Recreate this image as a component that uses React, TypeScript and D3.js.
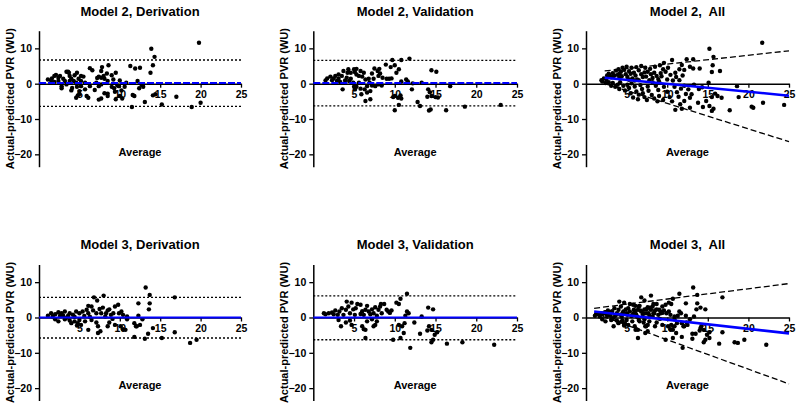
import React, { useEffect, useRef } from "react";
import * as d3 from "d3";

// tick values
const xTicks = [5, 10, 15, 20, 25];
const yTicks = [10, 0, -10, -20];

// [average, actual - predicted]
const m2Deriv: [number, number][] = [
  [19.8, 11.6], [13.9, 9.9], [14.3, 7.6], [14.1, 5.2], [13.8, 3.1], [11.3, 5.0], [11.9, 4.3], [12.5, 4.5],
  [12.2, 0.75], [12.7, -0.4], [12.9, -0.85], [12.4, -1.3], [11.6, -3.2], [11.8, -3.5], [13.1, -5.2], [14.1, -3.3],
  [14.4, -3.0], [15.2, -5.9], [17.0, -3.7], [11.5, -6.6], [18.9, -6.6], [20.0, -5.4], [8.6, 5.2], [7.8, 4.7],
  [6.3, 4.4], [6.6, 3.8], [7.7, 3.6], [9.5, 3.1], [8.4, 2.9], [8.0, 2.2], [9.0, 2.4], [9.2, 1.2], [10.0, 0.9],
  [7.2, 1.6], [7.4, 2.0], [7.7, 1.7], [8.1, 1.4], [8.5, 0.75], [9.7, -0.5], [9.0, -0.9], [9.3, -1.3], [9.9, -0.7],
  [10.6, -0.85], [10.8, 0.3], [10.2, -1.9], [9.4, -2.3], [10.0, -3.5], [10.3, -4.2], [9.5, -4.4], [8.5, -2.8],
  [8.1, -2.7], [8.5, -3.5], [7.7, -4.2], [7.4, -4.5], [6.9, -1.8], [6.1, -4.0], [5.9, -3.5], [5.7, -1.6],
  [5.0, -2.1], [4.8, -3.3], [4.6, -4.0], [6.3, -0.7], [5.2, -0.7], [4.7, -0.85], [4.1, -1.2], [4.0, -1.9],
  [2.8, -0.7], [2.8, -1.3], [3.4, -0.2], [1.1, 1.2], [1.6, 1.5], [1.9, 2.2], [2.1, 2.5], [2.4, 1.7], [2.6, 2.2],
  [3.0, 1.4], [3.4, 3.4], [3.7, 3.1], [3.8, 2.2], [4.0, 1.4], [4.4, 2.4], [4.7, 3.1], [4.9, 1.4], [5.2, 2.2],
  [5.2, 0.75], [5.5, 2.0], [5.7, 0.3], [2.4, 0.75], [1.9, 0.5], [1.5, 0.9], [4.3, 0.75], [4.6, 0.3], [3.8, 0.75],
  [3.2, 0.75], [7.1, 0.3], [7.7, -0.2], [7.4, -0.7], [5.0, -2.9], [3.6, 3.4],
];

const m2Valid: [number, number][] = [
  [11.8, 7.1], [10.8, 6.7], [9.7, 6.7], [10.0, 5.2], [9.5, 4.7], [8.9, 5.4], [10.5, 4.1], [10.2, 3.1], [14.5, 3.8],
  [15.1, 3.4], [11.4, 1.2], [11.6, 0.6], [10.8, 0.6], [12.2, 0.1], [13.3, 0.3], [16.8, -0.7], [12.1, -1.6],
  [14.1, -1.6], [14.3, -2.4], [14.0, -3.7], [14.5, -3.5], [15.3, -3.9], [15.0, -3.8], [12.8, -5.2], [13.1, -6.3],
  [14.2, -7.6], [14.4, -7.3], [16.3, -7.5], [18.6, -6.5], [23.0, -6.0], [10.0, -3.5], [10.4, -4.0], [10.7, -3.3],
  [10.8, -4.2], [10.5, -6.0], [10.0, -7.5], [9.8, -3.8], [6.4, -4.9], [7.0, -4.4], [5.9, -3.0], [6.6, -2.5],
  [7.0, -2.1], [6.3, -1.6], [5.8, -1.4], [5.3, -0.85], [5.0, -0.85], [5.1, -1.6], [3.6, -1.6], [5.6, 0.3],
  [6.6, -0.7], [7.2, -0.5], [7.6, -0.7], [8.0, -0.2], [8.4, -0.5], [6.9, 0.3], [7.4, 1.4], [8.0, 2.2], [8.2, 2.9],
  [7.9, 3.6], [7.5, 4.3], [8.1, 4.2], [8.5, 1.7], [9.0, 1.4], [9.3, 1.4], [9.6, 1.5], [7.2, 2.9], [6.8, 1.4],
  [6.4, 1.2], [6.0, 2.0], [5.6, 2.2], [5.3, 2.6], [5.0, 4.1], [5.3, 4.2], [5.1, 3.3], [5.8, 3.6], [6.2, 3.1],
  [4.3, 4.1], [4.6, 3.1], [4.2, 3.1], [3.7, 3.6], [4.6, 1.4], [4.1, 1.7], [3.9, 0.9], [3.5, 2.2], [3.1, 2.6],
  [3.1, 1.4], [2.7, 2.2], [2.5, 1.5], [2.3, 1.0], [2.1, 2.0], [1.7, 1.5], [1.5, 0.9], [2.9, 0.75], [3.3, 0.5],
  [4.4, 0.75], [4.9, 0.3],
];

const m2All: [number, number][] = [
  [21.7, 11.6], [15.2, 9.9], [15.7, 7.6], [15.6, 5.2], [15.5, 3.3], [16.5, 3.6], [14.0, 4.3], [13.2, 6.9],
  [12.4, 6.9], [10.6, 6.7], [11.8, 5.3], [12.1, 3.9], [12.8, 4.8], [13.2, 4.3], [11.5, 4.1], [11.0, 3.1],
  [15.1, 0.3], [18.6, -0.7], [15.9, -2.8], [16.2, -3.5], [16.7, -4.0], [18.8, -3.8], [15.5, -3.8], [14.8, -4.9],
  [15.2, -6.3], [15.5, -7.7], [15.7, -7.1], [14.4, -6.6], [13.8, -5.4], [17.7, -7.5], [20.4, -6.5], [20.6, -6.8],
  [21.8, -5.4], [24.4, -6.0], [13.0, -3.0], [12.6, -1.6], [12.8, -4.0], [12.1, -4.9], [11.6, -5.8], [12.8, -6.8],
  [11.0, -7.4], [11.8, -7.1], [4.0, 4.1], [4.5, 4.5], [5.0, 4.8], [5.6, 4.5], [6.2, 4.7], [6.8, 5.0], [7.3, 4.5],
  [7.9, 4.2], [8.5, 4.8], [9.1, 5.2], [9.6, 5.9], [10.1, 4.5], [9.5, 4.1],
  [2.2, 1.5], [2.6, 2.3], [2.8, 2.8], [3.1, 1.8], [3.3, 3.0], [3.5, 2.3], [3.7, 3.7], [3.9, 2.5], [4.1, 1.6],
  [4.3, 3.4], [4.4, 2.1], [4.7, 3.9], [4.9, 2.7], [5.1, 1.9], [5.3, 3.5], [5.5, 2.8], [5.7, 1.5], [5.9, 3.1],
  [6.1, 2.3], [6.3, 1.2], [6.5, 3.8], [6.8, 2.7], [7.0, 1.9], [7.2, 3.2], [7.4, 2.0], [7.6, 3.4], [7.8, 1.0],
  [8.0, 2.7], [8.2, 1.6], [8.4, 3.1], [8.7, 2.2], [8.9, 1.3], [9.2, 3.0], [9.3, 2.1], [9.8, 3.4], [10.0, 1.2],
  [10.4, 2.5], [10.7, 0.9], [11.1, 1.9], [11.5, 1.0], [11.9, 2.3],
  [2.0, 0.6], [2.4, 0.2], [2.8, 0.4], [3.1, -0.6], [3.3, 0.2], [3.6, -0.9], [3.9, -0.3], [4.1, -1.5], [4.2, 0.4],
  [4.6, -0.6], [4.8, -1.9], [5.1, -0.3], [5.3, -1.2], [5.5, -2.7], [5.6, 0.1], [6.0, -0.8], [6.2, -2.2],
  [6.5, -3.1], [6.7, -0.4], [6.9, -1.5], [7.0, -2.7], [7.2, -3.8], [7.6, -0.8], [7.7, -2.0], [8.1, -3.2],
  [8.4, -4.2], [8.6, -0.6], [8.9, -1.8], [9.0, -3.5], [9.5, -4.6], [9.6, -0.9], [10.0, -2.3], [10.3, -3.8],
  [10.6, -5.0], [10.9, -0.9], [11.2, -2.4], [11.4, -3.7], [11.7, -1.4], [12.1, -0.6], [12.3, -2.9], [13.3, -0.3],
  [13.9, -1.5], [14.3, -1.0], [7.5, -4.6], [1.9, 1.0], [2.5, 1.2], [3.3, 1.9], [4.1, 2.8], [6.0, 0.9], [6.5, 1.0],
  [8.2, 0.4], [9.0, 0.6], [2.9, 2.4], [5.3, 1.1], [5.8, -3.9], [6.4, -4.4], [8.8, -5.0],
];

const m3Deriv: [number, number][] = [
  [13.2, 8.5], [13.7, 6.4], [16.8, 5.7], [6.8, 5.7], [8.0, 6.2], [7.2, 4.8], [12.3, 4.0], [13.7, 4.0], [13.6, 2.3],
  [9.8, 3.6], [9.4, 3.1], [8.7, 2.3], [8.5, 2.0], [7.7, 1.2], [7.5, 2.4], [6.5, 3.1], [6.1, 3.3], [5.9, 2.2],
  [5.4, 1.7], [6.1, 1.2], [5.0, 1.2], [4.6, 1.7], [3.8, 1.2], [3.2, 1.7], [2.8, 1.2], [2.4, 1.5], [2.0, 0.9],
  [1.5, 1.2], [1.1, 0.5], [1.7, 0.3], [2.6, 0.5], [3.0, 0.5], [3.6, 0.5], [7.1, 1.2], [8.3, 1.2], [8.9, 0.75],
  [9.2, 1.2], [9.9, 1.2], [10.2, 1.7], [10.4, 0.75], [10.9, 0.3], [12.3, 0.5], [12.8, -0.5], [2.0, -0.5],
  [2.4, -1.1], [3.2, -0.5], [3.8, -0.85], [4.0, -1.6], [4.4, -1.1], [4.8, -1.6], [5.0, -0.7], [4.7, -2.3],
  [5.2, -2.1], [6.1, -3.5], [5.7, -1.1], [6.5, -0.7], [7.1, -1.4], [7.3, -2.5], [8.5, -2.5], [8.7, -1.4],
  [9.4, -2.1], [10.1, -2.5], [10.4, -3.3], [10.7, -3.5], [10.9, -0.5], [11.8, -1.6], [12.0, -2.5], [12.5, -2.1],
  [7.3, -4.4], [7.6, -3.9], [11.8, -5.5], [13.1, -6.0], [13.5, -4.6], [14.1, -3.0], [15.2, -5.8], [16.8, -4.2],
  [18.7, -7.2], [19.5, -6.3], [4.2, 0.8], [5.6, 0.4], [6.7, 2.0], [7.9, 2.8], [8.2, 0.3], [9.1, -0.4],
  [3.4, -0.1], [4.4, 0.2], [6.3, 0.2], [12.1, -2.5],
];

const m3Valid: [number, number][] = [
  [11.5, 6.7], [10.7, 5.3], [10.2, 4.2], [10.5, 3.8], [14.1, 2.8], [14.7, 2.3], [8.3, 3.8], [8.7, 3.8], [8.2, 3.1],
  [9.0, 2.2], [9.6, 2.0], [7.6, 2.9], [7.2, 2.3], [6.8, 1.7], [6.4, 2.2], [6.6, 3.3], [5.8, 3.6], [5.4, 3.8],
  [4.7, 4.2], [4.1, 4.5], [4.3, 3.1], [4.9, 2.3], [4.0, 2.2], [3.5, 2.6], [3.2, 1.7], [2.7, 2.0], [2.3, 1.4],
  [1.9, 1.2], [1.5, 0.9], [1.3, 1.2], [2.5, 0.9], [3.0, 0.75], [3.7, 0.75], [4.5, 1.2], [5.1, 0.75], [5.8, 1.0],
  [6.2, 0.75], [7.0, 0.9], [7.4, 1.2], [7.8, 0.5], [8.4, 1.2], [9.2, 1.7], [11.5, 1.7], [11.7, 1.2], [11.3, 0.5],
  [13.3, 0.3], [3.1, -0.7], [3.4, -2.5], [4.0, -1.4], [4.5, -0.85], [4.7, -2.1], [6.0, -2.5], [6.2, -3.3],
  [6.4, -3.5], [6.6, -1.1], [7.2, -0.5], [7.6, -2.1], [7.8, -1.1], [7.4, -2.5], [6.4, -5.8], [9.8, -6.3],
  [10.7, -5.8], [10.9, -2.5], [10.5, -2.1], [11.2, -1.6], [11.1, -4.4], [11.9, -8.6], [12.4, -1.4], [13.1, -4.6],
  [14.0, -3.7], [14.2, -2.5], [14.5, -3.5], [14.9, -4.9], [15.2, -4.2], [14.7, -6.3], [14.5, -7.0], [16.4, -7.4],
  [18.3, -7.0], [22.2, -7.7], [5.2, 2.6], [6.0, 1.8], [8.0, 2.2], [9.4, 1.3],
];

const m3All: [number, number][] = [...m3Deriv, ...m3Valid];

// bias and limits of agreement
const m2DerivBias = 0.2;
const m2DerivLoa = [6.7, -6.4];
const m2ValidBias = 0.2;
const m2ValidLoa = [6.6, -6.3];
const m3DerivBias = 0;
const m3DerivLoa = [5.7, -5.8];
const m3ValidBias = 0;
const m3ValidLoa = [6.1, -6.3];

// regression lines of the "All" plots, [average, difference] at both ends
const m2AllBias: [number, number][] = [[2.3, 1.7], [25, -3.4]];
const m2AllUpper: [number, number][] = [[2.3, 3.6], [25, 9.3]];
const m2AllLower: [number, number][] = [[2.3, 0.0], [25, -16.4]];
const m3AllBias: [number, number][] = [[1.0, 1.7], [25, -4.5]];
const m3AllUpper: [number, number][] = [[1.0, 2.6], [25, 9.6]];
const m3AllLower: [number, number][] = [[1.0, 1.2], [25, -18.8]];

const cols = [
  { l: 39, r: 241 },
  { l: 313.3, r: 517 },
  { l: 586, r: 789 },
];
const rows = [
  { top: 30.7, bottom: 166.7, titleY: 16 },
  { top: 264.5, bottom: 400.5, titleY: 249 },
];

const panels = [
  { row: 0, col: 0, title: "Model 2, Derivation", pts: m2Deriv, bias: m2DerivBias, loa: m2DerivLoa, dashBias: true },
  { row: 0, col: 1, title: "Model 2, Validation", pts: m2Valid, bias: m2ValidBias, loa: m2ValidLoa, dashBias: true },
  { row: 0, col: 2, title: "Model 2,  All", pts: m2All, lines: [m2AllUpper, m2AllLower], trend: m2AllBias },
  { row: 1, col: 0, title: "Model 3, Derivation", pts: m3Deriv, bias: m3DerivBias, loa: m3DerivLoa },
  { row: 1, col: 1, title: "Model 3, Validation", pts: m3Valid, bias: m3ValidBias, loa: m3ValidLoa },
  { row: 1, col: 2, title: "Model 3,  All", pts: m3All, lines: [m3AllUpper, m3AllLower], trend: m3AllBias },
];

const FONT = "'Liberation Sans', Arial, Helvetica, sans-serif";

const App = () => {
  const ref = useRef<SVGSVGElement>(null);

  useEffect(() => {
    const svg = d3.select(ref.current);
    svg.selectAll("*").remove();

    panels.forEach((p: any) => {
      const c = cols[p.col];
      const r = rows[p.row];
      const x = d3.scaleLinear().domain([0, 25]).range([c.l, c.r]);
      const y = d3.scaleLinear().domain([15, -23.5]).range([r.top, r.bottom]);
      const g = svg.append("g");
      const y0 = y(0);

      // y axis
      const ya = g
        .append("g")
        .attr("transform", `translate(${c.l},0)`)
        .call(d3.axisLeft(y).tickValues(yTicks).tickSize(4).tickSizeOuter(0).tickPadding(3));
      ya.select(".domain").attr("stroke-width", 1.5);
      ya.selectAll(".tick line").attr("stroke-width", 1.3);
      ya.selectAll("text")
        .attr("font-family", FONT)
        .attr("font-size", 10.5)
        .attr("font-weight", "bold");

      // x axis at zero
      const xa = g
        .append("g")
        .attr("transform", `translate(0,${y0})`)
        .call(d3.axisBottom(x).tickValues(xTicks).tickSize(4).tickSizeOuter(0).tickPadding(3));
      xa.select(".domain").attr("stroke-width", 1.5);
      xa.selectAll(".tick line").attr("stroke-width", 1.3);
      xa.selectAll("text")
        .attr("font-family", FONT)
        .attr("font-size", 10.5)
        .attr("font-weight", "bold");

      // limits of agreement
      if (p.loa) {
        g.selectAll(".loa")
          .data(p.loa)
          .enter()
          .append("line")
          .attr("x1", x(0))
          .attr("x2", x(25))
          .attr("y1", (d: number) => y(d))
          .attr("y2", (d: number) => y(d))
          .attr("stroke", "#000")
          .attr("stroke-width", 1.3)
          .attr("stroke-dasharray", "2,2");
      }
      if (p.lines) {
        const line = d3
          .line<[number, number]>()
          .x((d) => x(d[0]))
          .y((d) => y(d[1]));
        p.lines.forEach((l: [number, number][]) => {
          g.append("path")
            .attr("d", line(l))
            .attr("fill", "none")
            .attr("stroke", "#000")
            .attr("stroke-width", 1.3)
            .attr("stroke-dasharray", "6,3");
        });
      }

      // points
      g.selectAll(".pt")
        .data(p.pts)
        .enter()
        .append("circle")
        .attr("cx", (d: [number, number]) => x(d[0]))
        .attr("cy", (d: [number, number]) => y(d[1]))
        .attr("r", 2.2)
        .attr("fill", "#000");

      // bias / trend line
      if (p.bias !== undefined) {
        g.append("line")
          .attr("x1", x(0))
          .attr("x2", x(25))
          .attr("y1", y(p.bias))
          .attr("y2", y(p.bias))
          .attr("stroke", "#0000ff")
          .attr("stroke-width", 2)
          .attr("stroke-dasharray", p.dashBias ? "7,2" : null);
      }
      if (p.trend) {
        const line = d3
          .line<[number, number]>()
          .x((d) => x(d[0]))
          .y((d) => y(d[1]));
        g.append("path")
          .attr("d", line(p.trend))
          .attr("fill", "none")
          .attr("stroke", "#0000ff")
          .attr("stroke-width", 2.6);
      }

      // labels
      const cx = (c.l + c.r) / 2;
      g.append("text")
        .attr("x", cx)
        .attr("y", r.titleY)
        .attr("text-anchor", "middle")
        .attr("font-family", FONT)
        .attr("font-size", 13)
        .attr("font-weight", "bold")
        .style("white-space", "pre")
        .text(p.title);
      g.append("text")
        .attr("x", cx)
        .attr("y", y0 + 72)
        .attr("text-anchor", "middle")
        .attr("font-family", FONT)
        .attr("font-size", 11)
        .attr("font-weight", "bold")
        .text("Average");
      g.append("text")
        .attr("transform", `translate(${c.l - 29},${(r.top + r.bottom) / 2}) rotate(-90)`)
        .attr("dy", "0.35em")
        .attr("text-anchor", "middle")
        .attr("font-family", FONT)
        .attr("font-size", 11)
        .attr("font-weight", "bold")
        .text("Actual-predicted PVR (WU)");
    });
  }, []);

  return (
    <svg
      ref={ref}
      width={800}
      height={409}
      style={{ position: "absolute", left: 0, top: 0, background: "#fff" }}
    />
  );
};

export default App;
